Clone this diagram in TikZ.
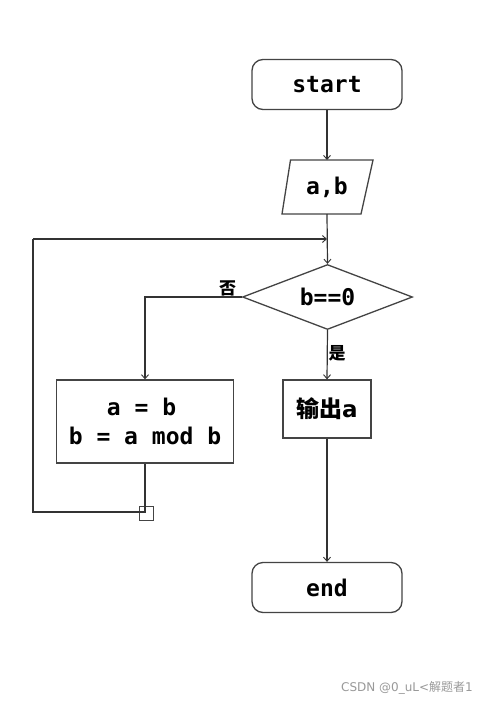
\documentclass[tikz,border=0pt]{standalone}
\usepackage{fontspec}
\setmainfont{DejaVu Sans}
\setmonofont{DejaVu Sans Mono}
\newfontfamily\cjk{Noto Sans CJK SC}
\usetikzlibrary{shapes.geometric,arrows.meta}
\definecolor{linec}{HTML}{333333}
\definecolor{boxc}{HTML}{444444}
\tikzset{
  termbox/.style={draw=boxc, line width=1.3pt, rounded corners=11pt, minimum width=150pt, minimum height=50pt, inner sep=0pt, font=\ttfamily\bfseries\fontsize{23}{27}\selectfont},
  procbox/.style={draw=boxc, line width=1.3pt, inner sep=0pt, align=center, font=\ttfamily\bfseries\fontsize{23}{29}\selectfont},
  txt/.style={inner sep=0pt, font=\ttfamily\bfseries\fontsize{23}{27}\selectfont},
  lbl/.style={inner sep=0pt, font=\cjk\bfseries\fontsize{17}{19}\selectfont},
  conn/.style={draw=linec, line width=1.2pt},
  arr/.style={conn, -{Straight Barb[length=4pt,width=7pt,line width=0.9pt]}},
}
\begin{document}
\begin{tikzpicture}[x=1pt,y=-1pt]
\useasboundingbox[fill=white] (0,0) rectangle (488,704);
% nodes
\node[termbox] (start) at (327,84.5) {start};
\node[txt] (io) at (327,187) {a,b};
\coordinate (iotop) at (327,160);
\coordinate (iobot) at (327,214);
\draw[boxc, line width=1.3pt] (290.5,160) -- (373,160) -- (361,214) -- (282,214) -- cycle;
\node[draw=boxc, line width=1.3pt, diamond, aspect=2.6, minimum width=170pt, minimum height=65pt, inner sep=0pt, font=\ttfamily\bfseries\fontsize{23}{27}\selectfont] (cond) at (327.5,297) {b==0};
\node[procbox, minimum width=177pt, minimum height=83pt] (calc) at (145,421.5) {a = b\hspace*{7pt}\\b = a mod b};
\node[procbox, minimum width=88pt, minimum height=58pt, font=\bfseries\fontsize{23}{27}\selectfont] (out) at (327,409) {{\cjk 输出}a};
\node[termbox] (end) at (327,587.5) {end};
\node[draw=boxc, line width=1pt, minimum size=14pt, inner sep=0pt] (junc) at (146.5,513.5) {};
% coordinates
\coordinate (merge) at (327,239);
\coordinate (nleft) at (145,297);
\coordinate (jl) at (145,512);
\coordinate (bl) at (33,512);
\coordinate (tl) at (33,239);
% connectors
\draw[arr] (start.south) -- (iotop);
\draw[arr] (iobot) -- (cond.north);
\draw[conn] (calc.south) -- (jl) -- (bl) -- (tl);
\draw[arr] (tl) -- (merge);
\draw[arr] (cond.west) -- (nleft) -- (calc.north);
\draw[arr] (cond.south) -- (out.north);
\draw[arr] (out.south) -- (end.north);
% labels
\node[lbl] (no) at (227.5,288) {否};
\node[lbl] (yes) at (337,353) {是};
\node[inner sep=0pt, text=black!40, font=\fontsize{12}{14}\selectfont, anchor=west] (wm) at (341,688) {CSDN @0\_uL<{\cjk 解题者}1};
\end{tikzpicture}
\end{document}
